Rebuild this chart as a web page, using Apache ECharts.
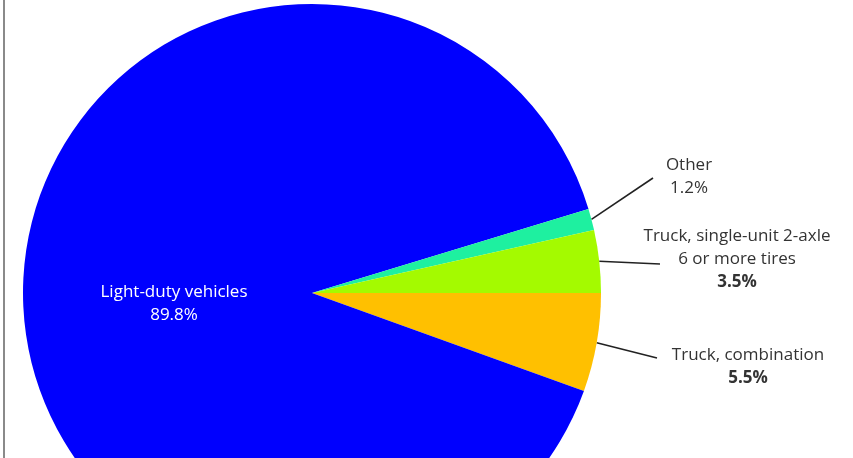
<!DOCTYPE html>
<html>
<head>
<meta charset="utf-8">
<script src="https://cdn.jsdelivr.net/npm/echarts@6/dist/echarts.min.js"></script>
<style>
html,body{margin:0;padding:0;background:#fff;}
#chart{width:853px;height:458px;}
</style>
</head>
<body>
<div id="chart"></div>
<script>
// Data (clockwise order starting at 3 o'clock)
const categories = ['Truck, combination', 'Light-duty vehicles', 'Other', 'Truck, single-unit 2-axle\n6 or more tires'];
const shares = [5.5, 89.8, 1.2, 3.5];
const percentLabels = ['5.5%', '89.8%', '1.2%', '3.5%'];
const sliceColors = ['#FFC000', '#0000FE', '#1EF0A0', '#A4FA00'];
const boldPercent = [true, false, false, true];

// label placement (text anchor centres) and label-line ends
const labelAnchors = [[748, 366.5], [174, 303.5], [689, 176.5], [737, 259]];
const lineEnds = [[657, 358], null, [653, 178], [660, 264]];

const chart = echarts.init(document.getElementById('chart'), null, {renderer: 'canvas'});
const FONT = '"Open Sans", Lato, sans-serif';

const data = categories.map((c, i) => {
  const inside = i === 1;
  return {
    name: c,
    value: shares[i],
    itemStyle: {color: sliceColors[i]},
    label: {
      show: true,
      position: inside ? 'inside' : 'outside',
      formatter: c.split('\n').map(s => '{n|' + s + '}').join('\n') + '\n' + (boldPercent[i] ? '{b|' : '{n|') + percentLabels[i] + '}',
      rich: {
        n: {fontFamily: FONT, fontSize: 17, lineHeight: 23, color: inside ? '#ffffff' : '#333333', align: 'center'},
        b: {fontFamily: FONT, fontSize: 17, lineHeight: 23, fontWeight: 'bold', color: inside ? '#ffffff' : '#333333', align: 'center'}
      }
    },
    labelLine: {show: !inside, length: 20, length2: 20, lineStyle: {color: '#222', width: 1.6}}
  };
});

chart.setOption({
  animation: false,
  graphic: [{
    type: 'rect', left: 3, top: 0,
    shape: {width: 2, height: 458},
    style: {fill: '#8a8a8a'}
  }],
  series: [{
    type: 'pie',
    center: [312, 293],
    radius: 289,
    startAngle: 0,
    clockwise: true,
    avoidLabelOverlap: false,
    data: data,
    labelLayout: function (p) {
      const a = labelAnchors[p.dataIndex];
      const out = {x: a[0], y: a[1], align: 'center', verticalAlign: 'middle'};
      const e = lineEnds[p.dataIndex];
      if (e && p.labelLinePoints) {
        out.labelLinePoints = [p.labelLinePoints[0], e];
      }
      return out;
    }
  }]
});
</script>
</body>
</html>
